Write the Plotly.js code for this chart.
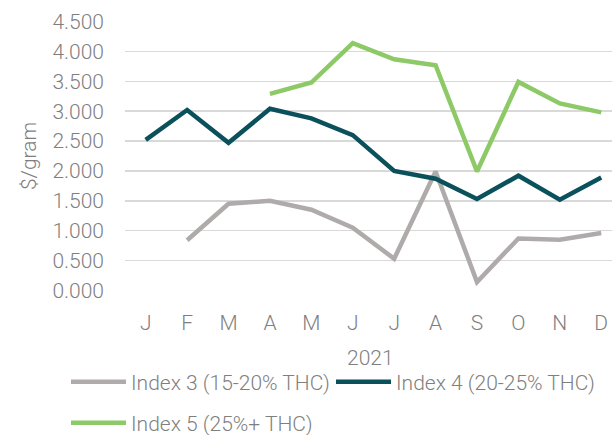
<!DOCTYPE html>
<html>
<head>
<meta charset="utf-8">
<script src="https://cdn.plot.ly/plotly-3.0.1.min.js"></script>
<style>html,body{margin:0;padding:0;background:#fff}#chart{width:612px;height:435px}</style>
</head>
<body>
<div id="chart"></div>
<script>
const months = ["Jan","Feb","Mar","Apr","May","Jun","Jul","Aug","Sep","Oct","Nov","Dec"];
const monthLabels = ["J","F","M","A","M","J","J","A","S","O","N","D"];
const index3 = [null, 0.84, 1.45, 1.50, 1.35, 1.05, 0.53, 1.99, 0.14, 0.87, 0.85, 0.96];
const index4 = [2.52, 3.02, 2.47, 3.04, 2.88, 2.60, 2.00, 1.87, 1.53, 1.92, 1.52, 1.89];
const index5 = [null, null, null, 3.29, 3.48, 4.14, 3.87, 3.77, 1.99, 3.49, 3.13, 2.98];
const seriesNames = ["Index 3 (15-20% THC)", "Index 4 (20-25% THC)", "Index 5 (25%+ THC)"];
const yearLabel = "2021";
const yLabel = "$/gram";

const font = {family: "Roboto, 'Open Sans', sans-serif", size: 21, color: "#7f7f7f", weight: 300};

const traces = [
  {x: months, y: index3, name: seriesNames[0], type: "scatter", mode: "lines",
   line: {color: "#b0abab", width: 4.5}, legend: "legend"},
  {x: months, y: index4, name: seriesNames[1], type: "scatter", mode: "lines",
   line: {color: "#0b515c", width: 4.5}, legend: "legend2"},
  {x: months, y: index5, name: seriesNames[2], type: "scatter", mode: "lines",
   line: {color: "#8dc966", width: 4.5}, legend: "legend3"}
];

function leg(xpx, ypx) {
  return {
    orientation: "h", xref: "container", yref: "container",
    x: xpx/612, y: 1 - ypx/435, xanchor: "left", yanchor: "middle",
    font: font, itemwidth: 55, bgcolor: "rgba(0,0,0,0)", borderwidth: 0
  };
}

const layout = {
  width: 612, height: 435,
  margin: {l: 125, r: 0, t: 21, b: 144},
  paper_bgcolor: "#fff", plot_bgcolor: "#fff",
  font: font,
  showlegend: true,
  xaxis: {
    type: "category",
    range: [-0.5, 11.26],
    tickvals: months, ticktext: monthLabels,
    showgrid: false, zeroline: false, showline: false,
    ticks: "", ticklabelstandoff: 17,
    tickfont: font
  },
  yaxis: {
    range: [-0.01, 4.51],
    tickvals: [0, 0.5, 1, 1.5, 2, 2.5, 3, 3.5, 4, 4.5],
    tickformat: ".3f",
    showgrid: true, gridcolor: "#d9d9d9", gridwidth: 1.5,
    zeroline: false, showline: false,
    ticks: "", ticklabelstandoff: 20,
    tickfont: font,
    title: {text: yLabel, font: font, standoff: 10}
  },
  annotations: [{
    text: yearLabel, xref: "paper", yref: "paper", x: 0.505, y: -67/270,
    xanchor: "center", yanchor: "middle", showarrow: false, font: font
  }],
  legend: leg(66, 382),
  legend2: leg(331, 382),
  legend3: leg(66, 423)
};

Plotly.newPlot("chart", traces, layout, {displayModeBar: false, staticPlot: true});
</script>
</body>
</html>
